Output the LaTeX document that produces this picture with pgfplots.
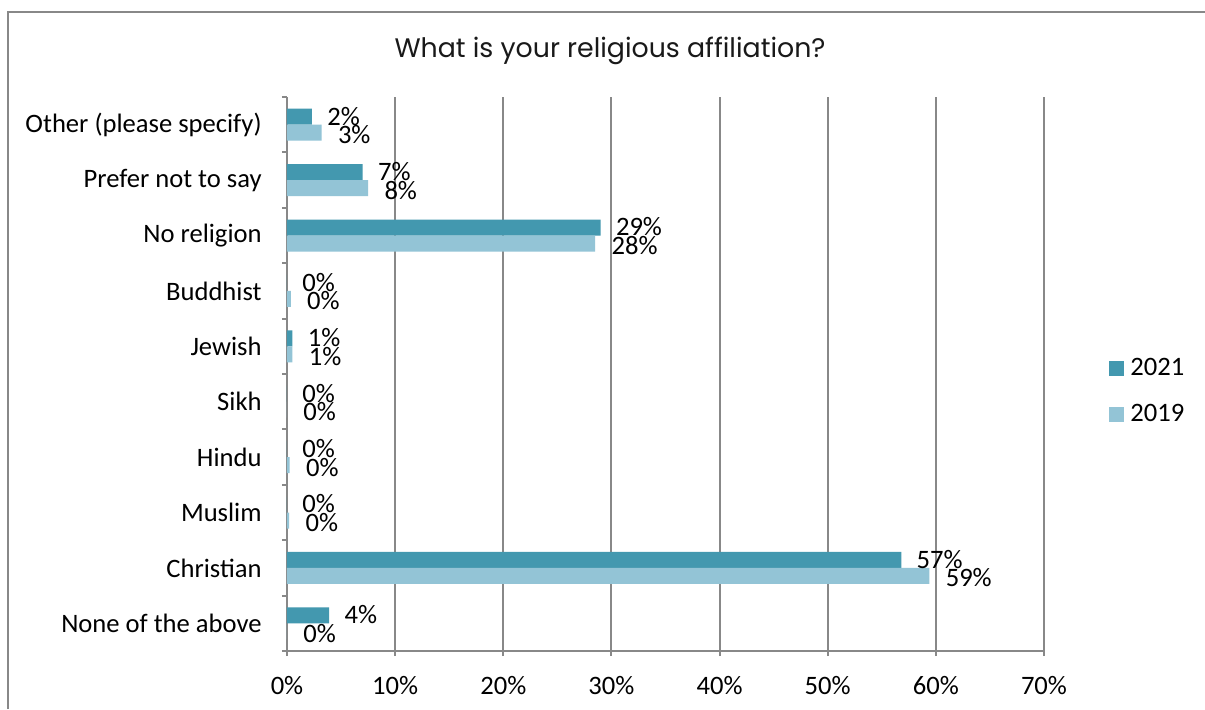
\documentclass[border=0pt]{standalone}
\usepackage{pgfplots}
\pgfplotsset{compat=1.18}
\usepackage{pgfplotstable}
\usepackage{fontspec}
\setmainfont{Carlito}
\newfontfamily\titlefont{Poppins}
\definecolor{c21}{HTML}{4398AF}
\definecolor{c19}{HTML}{93C4D6}
\definecolor{gridgray}{HTML}{888888}

\pgfplotstableread{
y v21 l21 v19 l19
0 3.9 4 0 0
1 56.8 57 59.4 59
2 0 0 0.2 0
3 0 0 0.25 0
4 0 0 0 0
5 0.5 1 0.5 1
6 0 0 0.35 0
7 29.0 29 28.5 28
8 7.0 7 7.5 8
9 2.3 2 3.2 3
}\datatable

\begin{document}
\begin{tikzpicture}
\useasboundingbox (0,0) rectangle (602.5pt,354.5pt);
\fill[white] (0,0) rectangle (602.5pt,354.5pt);
\draw[gridgray, line width=1pt] (4pt,0) -- (4pt,348.5pt) -- (602.5pt,348.5pt);
\node[font=\titlefont\fontsize{13.4}{16}\selectfont, text=black!90] at (305pt,329pt) {What is your religious affiliation?};
\begin{axis}[
  at={(143.5pt,29pt)}, anchor=south west,
  scale only axis, width=378.5pt, height=277pt,
  xbar, bar width=8pt,
  xmin=0, xmax=70, ymin=-0.5, ymax=9.5,
  axis lines*=left,
  axis line style={gridgray, line width=1pt},
  xtick={0,10,...,70},
  xticklabels={0\%,10\%,20\%,30\%,40\%,50\%,60\%,70\%},
  xmajorgrids, major grid style={gridgray, line width=1pt},
  tick align=outside, major tick length=2.5pt,
  tick style={gridgray, line width=1pt},
  ytick={-0.5,0.5,1.5,2.5,3.5,4.5,5.5,6.5,7.5,8.5,9.5},
  yticklabels={},
  extra y ticks={0,1,2,3,4,5,6,7,8,9},
  extra y tick labels={None of the above,Christian,Muslim,Hindu,Sikh,Jewish,Buddhist,No religion,Prefer not to say,Other (please specify)},
  extra y tick style={major tick length=0pt, yticklabel style={inner sep=0pt, xshift=-12.5pt}},
  ticklabel style={font=\fontsize{13.3}{16}\selectfont, text=black},
  xticklabel style={inner sep=0pt, yshift=-10pt},
  nodes near coords={\pgfplotspointmeta\%},
  point meta=explicit symbolic,
  every node near coord/.append style={font=\fontsize{13.3}{16}\selectfont, text=black, anchor=west, inner sep=0pt},
  legend style={at={(1.078,0.469)}, anchor=west, draw=none, fill=none,
    font=\fontsize{13.3}{16}\selectfont, row sep=13pt,
    nodes={inner sep=0pt, anchor=west}},
  legend image code/.code={\fill[#1] (0pt,-3.75pt) rectangle (7.5pt,3.75pt); \path (10.5pt,0pt);},
  clip=false,
]
\addplot[fill=c21, draw=none, bar shift=4pt, every node near coord/.append style={xshift=7.5pt, yshift=0.3pt}] table[x=v21, y=y, meta=l21] {\datatable};
\addlegendentry{2021}
\addplot[fill=c19, draw=none, bar shift=-4pt, every node near coord/.append style={xshift=8pt, yshift=-1pt}] table[x=v19, y=y, meta=l19] {\datatable};
\addlegendentry{2019}
\end{axis}
\end{tikzpicture}
\end{document}
